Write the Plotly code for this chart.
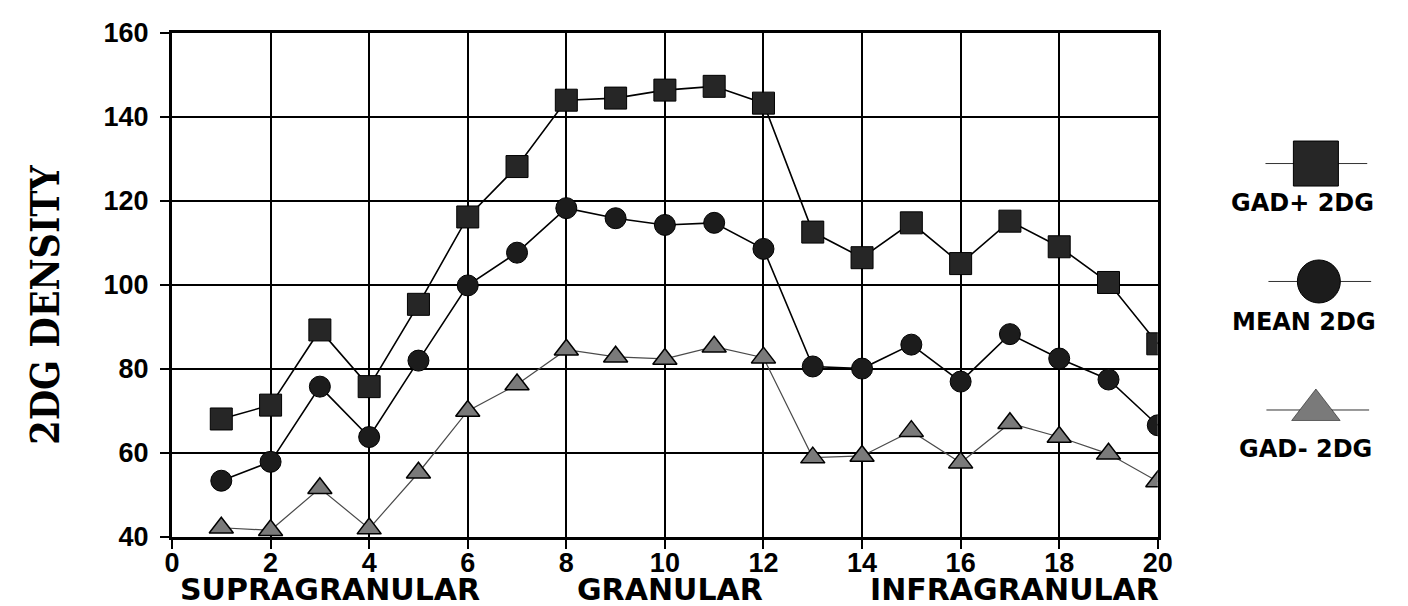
import plotly.graph_objects as go

# ---- data ----
layers = list(range(1, 21))
gad_pos = [68.1, 71.4, 89.3, 75.8, 95.4, 116.2, 128.2, 144.0, 144.5, 146.4,
           147.3, 143.3, 112.6, 106.5, 114.8, 105.1, 115.2, 109.1, 100.6, 86.0]
mean_2dg = [53.4, 57.9, 75.8, 63.8, 82.0, 99.9, 107.7, 118.3, 115.9, 114.3,
            114.8, 108.6, 80.6, 80.1, 85.8, 77.0, 88.3, 82.5, 77.5, 66.6]
gad_neg = [42.2, 41.6, 51.6, 42.0, 55.3, 70.0, 76.3, 84.6, 82.9, 82.4,
           85.3, 82.7, 58.9, 59.3, 65.2, 57.7, 67.1, 63.8, 59.8, 53.2]
series_names = ["GAD+ 2DG", "MEAN 2DG", "GAD- 2DG"]
region_labels = ["SUPRAGRANULAR", "GRANULAR", "INFRAGRANULAR"]
region_centers = [3.2, 10.1, 17.1]
y_title = "2DG DENSITY"

# ---- geometry: page body adds an 8px offset ----
W, H = 1400, 598
ML, MR, MT, MB = 164, 10, 20, 69
pw = W - ML - MR
main_right = (1170 - 172) / pw
leg_left = (1240 - 172) / pw

SANS = "DejaVu Sans, Arial, sans-serif"
TICKS = "Liberation Sans, Arial, Helvetica, sans-serif"
SERIF = "DejaVu Serif Condensed, Liberation Serif, serif"

fig = go.Figure()

fig.add_trace(go.Scatter(
    x=layers, y=gad_neg, mode="lines+markers", name=series_names[2],
    line=dict(color="#4a4a4a", width=1.2),
    marker=dict(symbol="triangle-up", size=21, color="#7a7a7a",
                line=dict(color="black", width=1.5)),
    showlegend=False))
fig.add_trace(go.Scatter(
    x=layers, y=mean_2dg, mode="lines+markers", name=series_names[1],
    line=dict(color="black", width=1.6),
    marker=dict(symbol="circle", size=21, color="#1c1c1c",
                line=dict(color="black", width=1)),
    showlegend=False))
fig.add_trace(go.Scatter(
    x=layers, y=gad_pos, mode="lines+markers", name=series_names[0],
    line=dict(color="black", width=1.6),
    marker=dict(symbol="square", size=22, color="#262626",
                line=dict(color="black", width=1)),
    showlegend=False))

# ---- custom legend (symbol with line, label below) ----
leg_items = [
    dict(sym="square", size=45, color="#262626", cx=0.57, cy=0.741, x0=0.247, x1=0.899, ty=0.662, tx=0.481),
    dict(sym="circle", size=43, color="#1c1c1c", cx=0.589, cy=0.507, x0=0.266, x1=0.924, ty=0.426, tx=0.494),
    dict(sym="triangle-up", size=42, color="#7a7a7a", cx=0.57, cy=0.252, x0=0.253, x1=0.911, ty=0.175, tx=0.506),
]
for name, it in zip(series_names, leg_items):
    fig.add_trace(go.Scatter(
        x=[it["x0"], it["x1"]], y=[it["cy"], it["cy"]], mode="lines",
        line=dict(color="#333", width=1), xaxis="x2", yaxis="y2",
        showlegend=False, hoverinfo="skip"))
    fig.add_trace(go.Scatter(
        x=[it["cx"]], y=[it["cy"]], mode="markers", xaxis="x2", yaxis="y2",
        marker=dict(symbol=it["sym"], size=it["size"], color=it["color"],
                    line=dict(color="black", width=1 if it["sym"] != "triangle-up" else 0.5)),
        showlegend=False, hoverinfo="skip"))
    fig.add_annotation(x=it["tx"], y=it["ty"], xref="x2", yref="y2", text=name,
                       xanchor="center", yanchor="middle", showarrow=False,
                       font=dict(family=SANS, size=24, color="black", weight="bold"))

# region labels below x axis
for lab, cx in zip(region_labels, region_centers):
    fig.add_annotation(x=cx, y=-0.104, xref="x", yref="paper", text=lab, showarrow=False,
                       xanchor="center", yanchor="middle",
                       font=dict(family=SANS, size=30, color="black", weight="bold"))

# y axis title
fig.add_annotation(x=(36 - ML) / pw, y=0.46, xref="paper", yref="paper", text=y_title,
                   textangle=-90, showarrow=False, xanchor="center", yanchor="middle",
                   font=dict(family=SERIF, size=39, color="black", weight="bold"))

axis_common = dict(showline=True, linecolor="black", linewidth=3, mirror=True,
                   showgrid=True, gridcolor="black", gridwidth=1.5,
                   ticks="outside", ticklen=9, tickwidth=1.5, tickcolor="black",
                   zeroline=False,
                   tickfont=dict(family=TICKS, size=27, color="black", weight="bold"))

fig.update_layout(
    width=W, height=H,
    margin=dict(l=ML, r=MR, t=MT, b=MB),
    paper_bgcolor="white", plot_bgcolor="white",
    xaxis=dict(domain=[0, main_right], range=[0, 20], dtick=2, tick0=0,
               ticklabelstandoff=-9, **axis_common),
    yaxis=dict(domain=[0, 1], range=[40, 160], dtick=20, tick0=40,
               ticklabelstandoff=6, **axis_common),
    xaxis2=dict(domain=[leg_left, 1], range=[0, 1], visible=False, anchor="y2"),
    yaxis2=dict(domain=[0, 1], range=[0, 1], visible=False, anchor="x2"),
)

fig.write_html("out.html")
